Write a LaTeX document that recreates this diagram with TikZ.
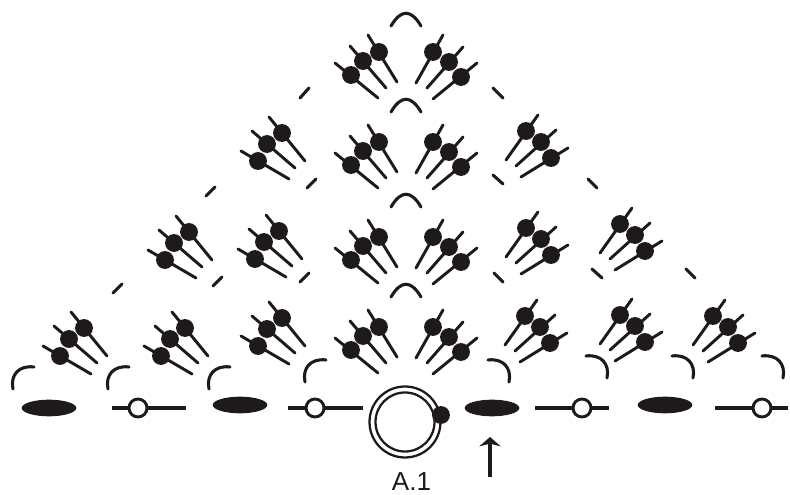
\documentclass[tikz,border=0pt]{standalone}
\usepackage{fontspec}
\setmainfont{Liberation Sans}
\usetikzlibrary{arrows.meta,shapes.geometric}
\definecolor{ink}{HTML}{1E1A1B}
\tikzset{
  yarn/.style={draw=ink,line width=2.3pt,line cap=round},
  thin stem/.style={draw=ink,line width=2.2pt,line cap=round},
  knot/.style={circle,fill=ink,inner sep=0pt,minimum size=13.4pt},
  slip/.style={ellipse,fill=ink,inner sep=0pt,minimum width=41pt,minimum height=12.5pt},
  chain/.style={circle,draw=ink,fill=white,line width=2.2pt,inner sep=0pt,minimum size=13.5pt},
}
% one stitch: dot offset, then the two stem ends, all relative to the fan origin
\newcommand{\StitchAt}[6]{\draw[thin stem] (#3,#4) -- (#5,#6); \node[knot] at (#1,#2) {};}
\newcommand{\FanLA}[2]{\begin{scope}[shift={(#1,#2)}]
  \StitchAt{-24}{28}{-41}{18}{7}{46}
  \StitchAt{-15}{11}{-30}{-2}{13}{35}
  \StitchAt{0}{0}{-13}{-16}{23}{28}
\end{scope}}
\newcommand{\FanLB}[2]{\begin{scope}[shift={(#1,#2)}]
  \StitchAt{-28}{23}{-44}{11}{-1}{46}
  \StitchAt{-16}{9}{-29}{-6}{7}{36}
  \StitchAt{0}{0}{-11}{-17}{18}{30}
\end{scope}}
\newcommand{\FanRB}[2]{\begin{scope}[shift={(#1,#2)}]
  \StitchAt{28}{25}{44}{11}{0}{47}
  \StitchAt{16}{10}{30}{-5}{-6}{36}
  \StitchAt{0}{0}{10}{-17}{-17}{31}
\end{scope}}
\newcommand{\FanRA}[2]{\begin{scope}[shift={(#1,#2)}]
  \StitchAt{25}{27}{42}{17}{-5}{46}
  \StitchAt{15}{11}{30}{-1}{-10}{35}
  \StitchAt{0}{0}{12}{-16}{-20}{29}
\end{scope}}
\newcommand{\ArcL}[2]{\draw[yarn] (#1,#2) .. controls +(-3,-14) and +(-15,-2) .. +(21,-22);}
\newcommand{\ArcR}[2]{\draw[yarn] (#1,#2) .. controls +(3,-14) and +(15,-2) .. +(-21,-22);}
\newcommand{\ArcT}[2]{\draw[yarn] (#1,#2) .. controls +(10,-17) and +(-10,-17) .. +(30,0);}
\newcommand{\Dash}[4]{\draw[yarn] (#1,#2) -- (#3,#4);}
\begin{document}
\begin{tikzpicture}[x=0.75pt,y=-0.75pt]
\useasboundingbox (0,0) rectangle (790,495);
% fans
\FanLB{379}{52}\FanLB{379}{142}\FanLB{379}{237}\FanLB{379}{327}
\FanRB{433}{52}\FanRB{433}{142}\FanRB{433}{237}\FanRB{433}{327}
\FanLA{84}{328}\FanLA{185}{328}\FanLA{282}{318}
\FanLA{189}{232}\FanLA{279}{231}\FanLA{282}{133}
\FanRA{526}{131}\FanRA{526}{228}\FanRA{620}{224}
\FanRA{525}{316}\FanRA{620}{315}\FanRA{713}{316}
% dashes
\Dash{300}{98}{309}{88}\Dash{493}{88}{503}{98}
\Dash{307}{188}{316}{179}\Dash{493}{175}{503}{184}
\Dash{206}{196}{215}{187}\Dash{588}{179}{597}{188}
\Dash{213}{286}{222}{277}\Dash{300}{282}{309}{273}
\Dash{494}{273}{503}{282}\Dash{592}{269}{602}{278}
\Dash{686}{269}{695}{278}\Dash{113}{293}{122}{284}
% arcs
\ArcT{391}{26}\ArcT{391}{112}\ArcT{391}{207}\ArcT{391}{297}
\ArcL{13}{389}\ArcL{108}{389}\ArcL{209}{389}\ArcL{305}{382}
\ArcR{509}{382}\ArcR{607}{378}\ArcR{693}{378}\ArcR{783}{378}
% base row
\node[slip] (s1) at (49,408) {};
\node[slip] (s2) at (240,405) {};
\node[slip] (s3) at (492,408) {};
\node[slip] (s4) at (665,405) {};
\coordinate (c1a) at (112,408); \coordinate (c1b) at (186,408);
\coordinate (c2a) at (288,408); \coordinate (c2b) at (363,408);
\coordinate (c3a) at (535,408); \coordinate (c3b) at (609,408);
\coordinate (c4a) at (715,408); \coordinate (c4b) at (788,408);
\draw[yarn,line cap=butt] (c1a) -- (c1b);
\draw[yarn,line cap=butt] (c2a) -- (c2b);
\draw[yarn,line cap=butt] (c3a) -- (c3b);
\draw[yarn,line cap=butt] (c4a) -- (c4b);
\node[chain] (c1) at (138,408) {};
\node[chain] (c2) at (315,408) {};
\node[chain] (c3) at (582,408) {};
\node[chain] (c4) at (762,408) {};
% ring
\draw[draw=ink,line width=1.7pt] (405,422) circle (35.5);
\draw[draw=ink,line width=1.7pt] (405,422) circle (29.5);
\node[knot] (ringdot) at (441,415) {};
\node[anchor=base,text=ink,inner sep=0pt,font=\fontsize{19.5}{19.5}\selectfont] (lab) at (411.5,491) {A.1};
% arrow
\coordinate (ar0) at (490,477); \coordinate (ar1) at (490,437);
\draw[draw=ink,line width=2.3pt,-{Stealth[length=7pt,width=16pt,inset=2pt]}] (ar0) -- (ar1);
\end{tikzpicture}
\end{document}
